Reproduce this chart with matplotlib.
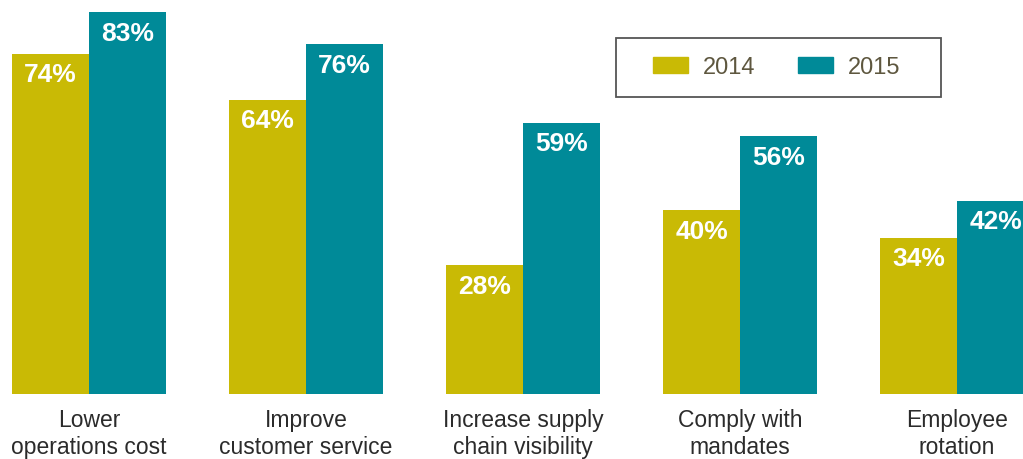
import matplotlib
matplotlib.use("Agg")
import matplotlib.pyplot as plt
from matplotlib.patches import Rectangle, Patch
import numpy as np

plt.rcParams['font.family'] = ['Liberation Sans', 'DejaVu Sans']

categories = ["Lower\noperations cost", "Improve\ncustomer service",
              "Increase supply\nchain visibility", "Comply with\nmandates",
              "Employee\nrotation"]
years = ["2014", "2015"]
vals_2014 = [74, 64, 28, 40, 34]
vals_2015 = [83, 76, 59, 56, 42]

c14 = '#C9BA05'
c15 = '#008A98'

W, H = 1023, 459
fig = plt.figure(figsize=(W / 100, H / 100), dpi=100)
base = 394
ax = fig.add_axes([0, (H - base) / H, 1, base / H])

x = np.arange(len(categories))
bw = 77 / 217
b1 = ax.bar(x - bw / 2, vals_2014, bw, color=c14, label=years[0])
b2 = ax.bar(x + bw / 2, vals_2015, bw, color=c15, label=years[1])

for bars, vals in ((b1, vals_2014), (b2, vals_2015)):
    for r, v in zip(bars, vals):
        ax.annotate(f"{v}%", (r.get_x() + r.get_width() / 2, v),
                    xytext=(0, -15.5), textcoords='offset points',
                    ha='center', va='center', color='white',
                    fontsize=19, fontweight='bold')

ax.set_xlim(-89 / 217, (W - 89) / 217)
ax.set_ylim(0, base / 4.6)
ax.set_xticks(x)
ax.set_xticklabels(categories, fontsize=16.5, color='#2b2b2b', linespacing=1.25)
ax.tick_params(axis='x', length=0, pad=10.5)
ax.set_yticks([])
for s in ax.spines.values():
    s.set_visible(False)

# legend box drawn separately so the padding can differ per side
fig.patches.append(Rectangle((616 / W, 1 - 97 / H), (941 - 616) / W, 59 / H,
                             transform=fig.transFigure, fill=False,
                             edgecolor='#555555', linewidth=1.3))
handles = [Patch(color=c14, label=years[0]), Patch(color=c15, label=years[1])]
leg = fig.legend(handles=handles, loc='center', ncol=2, frameon=False,
                 bbox_to_anchor=(776.5 / W, 1 - 67.5 / H),
                 fontsize=17, handlelength=1.48, handleheight=0.68,
                 handletextpad=0.64, columnspacing=1.8)
for t in leg.get_texts():
    t.set_color('#5E573F')

fig.savefig("out.png", dpi=100)
